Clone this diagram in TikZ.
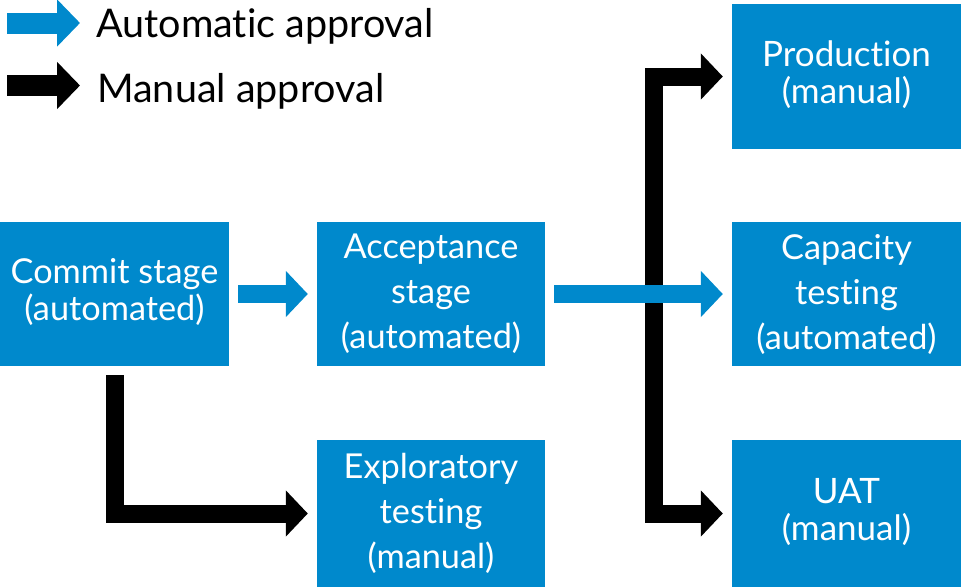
\documentclass[tikz,border=0pt]{standalone}
\usepackage{fontspec}
\setmainfont{Lato}[RawFeature=-liga]
\usetikzlibrary{arrows.meta}
\definecolor{stageblue}{RGB}{0,137,204}
\newcommand{\lowstrut}{\rule[-9pt]{0pt}{9pt}}
\tikzset{
  stagebox/.style={fill=stageblue, draw=none, text=white, align=center,
    minimum width=229pt, inner sep=0pt},
  autoarrow/.style={draw=stageblue, line width=18pt, line join=miter,
    -{Triangle[width=45pt,length=22pt]}, shorten >=9pt, shorten <=9pt},
  manualarrow/.style={draw=black, line width=18pt, line join=miter,
    -{Triangle[width=45pt,length=22pt]}, shorten >=9pt, shorten <=9pt},
  manualbi/.style={draw=black, line width=18pt, line join=miter,
    {Triangle[width=45pt,length=22pt]}-{Triangle[width=45pt,length=22pt]}, shorten >=9pt, shorten <=9pt},
  legendtext/.style={inner sep=0pt, anchor=base west, font=\fontsize{39.5}{42}\selectfont},
  threeline/.style={font=\fontsize{34.3}{45}\selectfont},
  twoline/.style={font=\fontsize{34.3}{37}\selectfont},
  twolinebig/.style={font=\fontsize{35}{37}\selectfont}
}
\begin{document}
\begin{tikzpicture}[x=1pt,y=-1pt]
\useasboundingbox (0,0) rectangle (961,587);
% boxes
\node[stagebox, twoline, minimum height=144pt] (commit) at (114.5,294) {Commit stage\\(automated)\lowstrut};
\node[stagebox, threeline, minimum width=228pt, minimum height=144pt] (accept) at (431,294) {Acceptance\\stage\\(automated)};
\node[stagebox, threeline, minimum width=228pt, minimum height=147pt] (explore) at (431,513.5) {Exploratory\\testing\\(manual)};
\node[stagebox, twolinebig, minimum height=145pt] (prod) at (846.5,76.5) {Production\\(manual)\lowstrut};
\node[stagebox, threeline, minimum height=144pt] (capacity) at (846.5,294) {Capacity\\testing\\(automated)};
\node[stagebox, twolinebig, minimum height=147pt] (uat) at (846.5,513.5) {UAT\\(manual)\lowstrut};
\coordinate (junction) at (653.5,294);
% connectors
\draw[manualarrow] (commit.south) |- (explore.west);
\draw[manualbi] (prod.west) -| (junction) |- (uat.west);
\draw[autoarrow] (commit.east) -- (accept.west);
\draw[autoarrow] (accept.east) -- (capacity.west);
% legend
\coordinate (la1s) at (7,23);
\coordinate (la1e) at (80,23);
\coordinate (la2s) at (7,85.5);
\coordinate (la2e) at (80,85.5);
\draw[draw=stageblue, line width=21pt, -{Triangle[width=46pt,length=23pt]}] (la1s) -- (la1e);
\draw[draw=black, line width=21pt, -{Triangle[width=46pt,length=23pt]}] (la2s) -- (la2e);
\node[legendtext] (lt1) at (96,37) {Automatic approval};
\node[legendtext] (lt2) at (97,102) {Manual approval};
\end{tikzpicture}
\end{document}
